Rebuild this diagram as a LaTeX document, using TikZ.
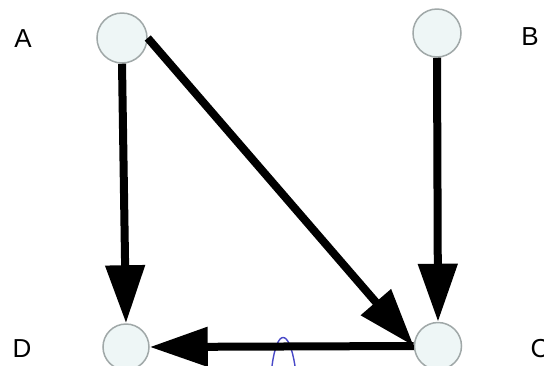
\documentclass[tikz,border=0pt]{standalone}
\usepackage{fontspec}
\setmainfont{Liberation Sans}
\usetikzlibrary{arrows.meta}
\definecolor{nodefill}{HTML}{EEF6F6}
\definecolor{nodeedge}{HTML}{A0A8A8}
\definecolor{curveblue}{HTML}{4848C8}
\begin{document}
\begin{tikzpicture}[x=1pt,y=-1pt,
  vert/.style={circle,draw=nodeedge,fill=nodefill,line width=1.5pt,inner sep=0pt,minimum size=#1},
  lab/.style={font=\fontsize{26}{26}\selectfont,inner sep=0pt,anchor=center},
  edge/.style={line width=8pt,-{Triangle[length=58pt,width=38pt]}}]
\useasboundingbox (0,0) rectangle (544,365);
\fill[white] (0,0) rectangle (544,365);
\node[vert=50pt] (A) at (122,38) {};
\node[vert=48pt] (B) at (437,33) {};
\node[vert=46pt] (D) at (126,347) {};
\node[vert=47pt] (C) at (438,346) {};
\node[lab] (lA) at (23,39) {A};
\node[lab] (lB) at (530,37) {B};
\node[lab] (lD) at (22,349) {D};
\node[lab] (lC) at (540,349) {C};
\draw[curveblue,line width=1.4pt] (272,366) .. controls (277,328) and (289,328) .. (295,366);
\draw[edge] (A.south) -- (D.north);
\draw[edge] (B.south) -- (C.north);
\draw[edge] (A.east) -- (C.west);
\draw[edge] (C.west) -- (D.east);
\end{tikzpicture}
\end{document}
